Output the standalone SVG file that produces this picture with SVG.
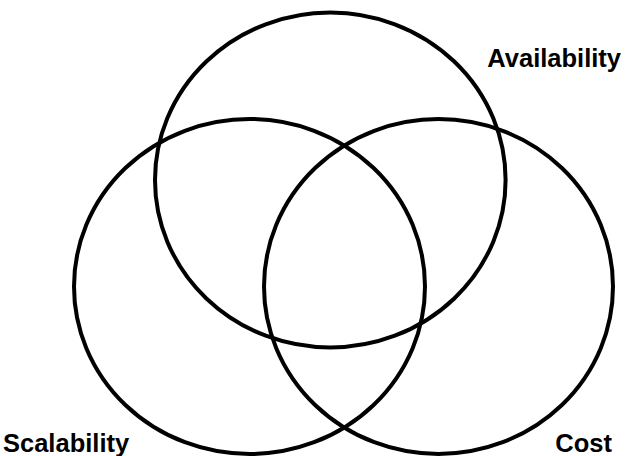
<svg xmlns="http://www.w3.org/2000/svg" width="626" height="456" viewBox="0 0 626 456">
<style>
.c{fill:none;stroke:#000;stroke-width:4}
.t{font-family:"Liberation Sans",Arial,Helvetica,sans-serif;font-weight:bold;font-size:25.5px;fill:#000}
</style>
<rect width="626" height="456" fill="#fff"/>
<g id="availability">
<ellipse class="c" cx="330.3" cy="180" rx="175.3" ry="167.5"/>
<text class="t" x="621" y="67" text-anchor="end">Availability</text>
</g>
<g id="scalability">
<ellipse class="c" cx="249.5" cy="286.5" rx="175.5" ry="167.5"/>
<text class="t" x="3" y="452">Scalability</text>
</g>
<g id="cost">
<ellipse class="c" cx="438.5" cy="286.5" rx="174.5" ry="167.5"/>
<text class="t" x="612" y="452" text-anchor="end">Cost</text>
</g>
<g id="connectors"></g>
</svg>
